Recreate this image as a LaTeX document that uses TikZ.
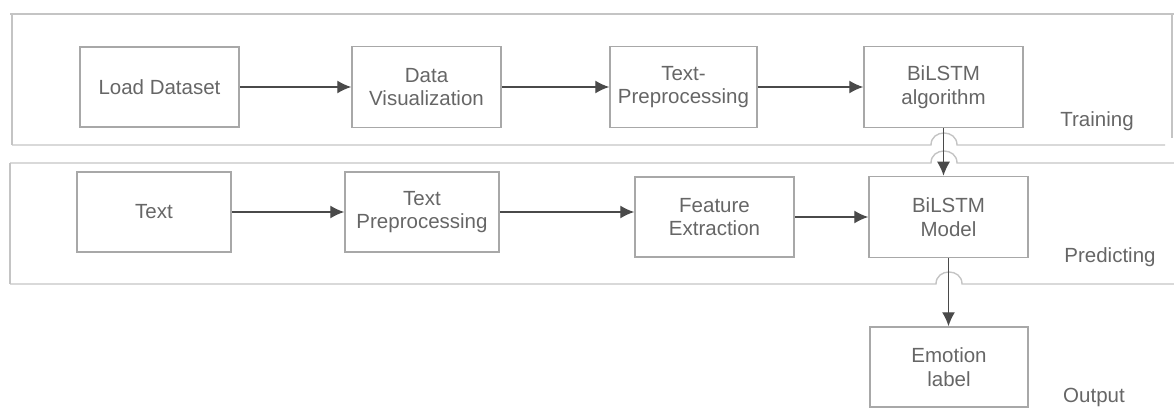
\documentclass[tikz,border=0pt]{standalone}
\usepackage{fontspec}
\setmainfont{Liberation Sans}
\usepackage{tikz}
\usetikzlibrary{arrows.meta, calc}

\definecolor{boxgray}{HTML}{A8A8A8}
\definecolor{lanegray}{HTML}{C4C4C4}
\definecolor{textgray}{HTML}{666666}
\definecolor{arrowgray}{HTML}{4A4A4A}

\begin{document}
\begin{tikzpicture}[x=1pt, y=-1pt,
  every node/.style={font=\fontsize{20.5}{23.5}\selectfont, text=textgray},
  procbox/.style={draw=boxgray, line width=1.5pt, align=center, inner sep=0pt},
  flow/.style={-{Latex[length=14pt, width=13pt]}, draw=arrowgray, line width=1.4pt},
  lane/.style={draw=lanegray, line width=1.4pt}]
\useasboundingbox (0,0) rectangle (1174,411);
% Hop parameters
\pgfmathsetmacro{\hopR}{13}
\pgfmathsetmacro{\hopH}{16}

% Draw training lane
\draw[lane] (10,14) -- (1174,14);
\draw[lane] (12,14) -- (12,145);
\draw[lane] (1172,14) -- (1172,138);
\draw[lane] (12,145) -- (944-\hopR,145) .. controls (944-\hopR,145-\hopH) and (944+\hopR,145-\hopH) .. (944+\hopR,145) -- (1165,145);
% Draw predicting lane
\draw[lane] (10,163) -- (944-\hopR,163) .. controls (944-\hopR,163-\hopH) and (944+\hopR,163-\hopH) .. (944+\hopR,163) -- (1174,163);
\draw[lane] (10,163) -- (10,284);
\draw[lane] (10,284) -- (949-\hopR,284) .. controls (949-\hopR,284-\hopH) and (949+\hopR,284-\hopH) .. (949+\hopR,284) -- (1174,284);

% Training boxes
\node[procbox, minimum width=159pt, minimum height=80pt] (load) at (159.5,87) {Load Dataset};
\node[procbox, minimum width=149pt, minimum height=81pt] (vis) at (426.5,87) {Data\\Visualization};
\node[procbox, minimum width=147pt, minimum height=81pt] (prep) at (683.5,87) {Text-\\Preprocessing};
\node[procbox, minimum width=159pt, minimum height=81pt] (algo) at (943.5,87) {BiLSTM\\algorithm};
% Predicting boxes
\node[procbox, minimum width=154pt, minimum height=80pt] (text) at (154,212) {Text};
\node[procbox, minimum width=154pt, minimum height=80pt] (tprep) at (422,212) {Text\\Preprocessing};
\node[procbox, minimum width=159pt, minimum height=80pt] (feat) at (714.5,217) {Feature\\Extraction};
\node[procbox, minimum width=159pt, minimum height=81pt] (model) at (948.5,217) {BiLSTM\\Model};
% Output box
\node[procbox, minimum width=158pt, minimum height=80pt] (emo) at (949,367) {Emotion\\label};

% Lane labels
\node (train) at (1097,121) {Training};
\node (pred) at (1110,257) {Predicting};
\node (out) at (1094,397) {Output};

% Draw arrows
\draw[flow] (load) -- (vis);
\draw[flow] (vis) -- (prep);
\draw[flow] (prep) -- (algo);
\draw[flow] (text) -- (tprep);
\draw[flow] (tprep.east) -- (tprep.east -| feat.west);
\draw[flow] (feat) -- (model);
\draw[flow] (algo.south) -- (algo.south |- model.north);
\draw[flow] (model.south) -- (model.south |- emo.north);

\end{tikzpicture}
\end{document}
